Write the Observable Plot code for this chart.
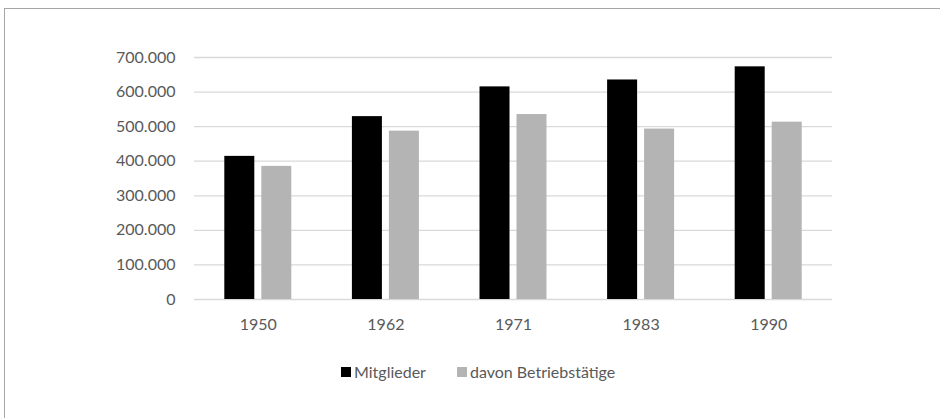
<!DOCTYPE html>
<html>
<head>
<meta charset="utf-8">
<script src="https://cdn.jsdelivr.net/npm/d3@7"></script>
<script src="https://cdn.jsdelivr.net/npm/@observablehq/plot@0.6"></script>
<style>
  html, body { margin: 0; padding: 0; background: #fff; width: 940px; height: 418px; overflow: hidden; }
  #frame { position: absolute; left: 4px; top: 8px; width: 960px; height: 440px; border-left: 1px solid #a6a6a6; border-top: 1px solid #a6a6a6; box-sizing: border-box; }
  #chart, #bars { position: absolute; left: 0; top: 0; }
  #legend { position: absolute; left: 336px; top: 353px; display: flex; align-items: center; font-family: Lato, sans-serif; font-size: 16px; color: #595959; }
  .sw { width: 10px; height: 10px; display: inline-block; margin-right: 3px; }
  .item { display: flex; align-items: center; margin-right: 31px; }
</style>
</head>
<body>
<div id="frame"><div id="chart"></div><div id="bars"></div><div id="legend"></div></div>
<script>
const years = ["1950", "1962", "1971", "1983", "1990"];
const seriesNames = ["Mitglieder", "davon Betriebstätige"];
const mitglieder = [414000, 529000, 615000, 635000, 673000];
const betriebstaetige = [385000, 487000, 535000, 493000, 513000];
const seriesColors = ["#000000", "#b4b4b4"];
const yTicks = [0, 100000, 200000, 300000, 400000, 500000, 600000, 700000];

const data = [];
years.forEach((y, i) => {
  data.push({year: y, series: seriesNames[0], value: mitglieder[i]});
  data.push({year: y, series: seriesNames[1], value: betriebstaetige[i]});
});

const fmt = d => d3.format(",")(d).replace(/,/g, ".");

const common = {
  width: 935,
  height: 340,
  marginLeft: 189,
  marginRight: 108,
  marginTop: 48,
  marginBottom: 50,
  style: {fontFamily: "Lato, sans-serif", fontSize: "16px", color: "#595959", background: "transparent"}
};

// background: grid and axes
const base = Plot.plot({
  ...common,
  x: {type: "band", domain: years, padding: 0, round: false, label: null},
  y: {domain: [0, 700000], label: null},
  marks: [
    Plot.gridY(yTicks, {stroke: "#d9d9d9", strokeOpacity: 1, strokeWidth: 1.3}),
    Plot.axisY(yTicks, {tickSize: 0, tickPadding: 19, tickFormat: fmt, label: null, fill: "#595959"}),
    Plot.axisX({tickSize: 0, tickPadding: 19, label: null, fill: "#595959"})
  ]
});
document.getElementById("chart").appendChild(base);

// foreground: grouped bars
const bars = Plot.plot({
  ...common,
  fx: {domain: years, paddingInner: 0.475, paddingOuter: 0.2375, round: false, label: null, axis: null},
  x: {domain: seriesNames, paddingInner: 0.189, paddingOuter: 0, round: false, axis: null},
  y: {domain: [0, 700000], axis: null},
  color: {domain: seriesNames, range: seriesColors},
  marks: [
    Plot.barY(data, {fx: "year", x: "series", y: "value", fill: "series"})
  ]
});
document.getElementById("bars").appendChild(bars);

const legend = document.getElementById("legend");
seriesNames.forEach((n, i) => {
  const it = document.createElement("span");
  it.className = "item";
  const sw = document.createElement("span");
  sw.className = "sw";
  sw.style.background = seriesColors[i];
  it.appendChild(sw);
  it.appendChild(document.createTextNode(n));
  legend.appendChild(it);
});
</script>
</body>
</html>
